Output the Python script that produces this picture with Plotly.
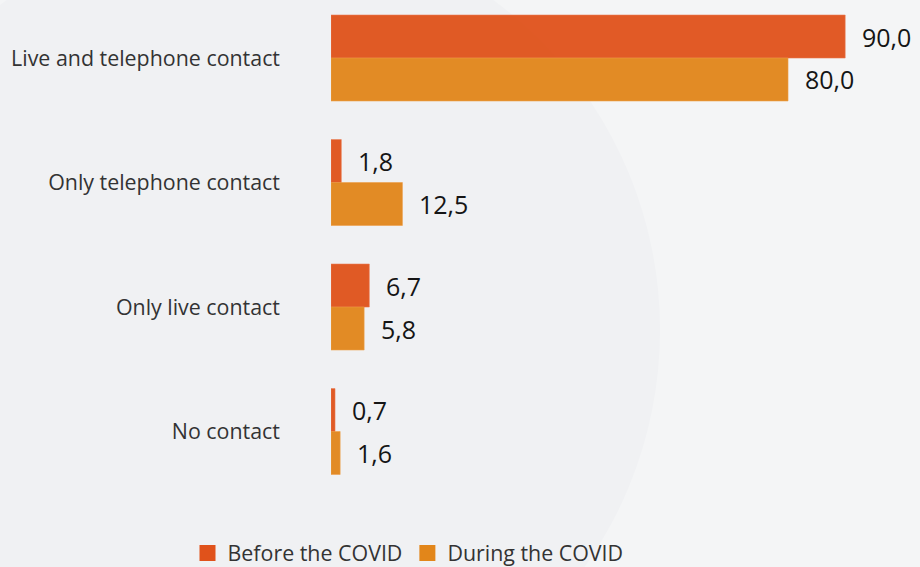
import plotly.graph_objects as go

# Share of respondents by type of contact (%)
categories = ["Live and telephone contact", "Only telephone contact",
              "Only live contact", "No contact"]
before_covid = [90.0, 1.8, 6.7, 0.7]
during_covid = [80.0, 12.5, 5.8, 1.6]
series_names = ["Before the COVID", "During the COVID"]

colors = ["#e0521b", "#e2861a"]
edge_colors = ["#ea7244", "#ec9a40"]
FONT = "Open Sans, Noto Sans, sans-serif"

fig = go.Figure()

for name, vals, col, edge in zip(series_names, [before_covid, during_covid], colors, edge_colors):
    fig.add_trace(go.Bar(
        y=categories, x=vals, orientation="h", name=name,
        marker=dict(color=col, line=dict(color=edge, width=0.6)),
        opacity=0.95, showlegend=False, hoverinfo="skip",
    ))

# legend entries with larger square swatches
for name, col in zip(series_names, colors):
    fig.add_trace(go.Scatter(
        x=[None], y=[None], mode="markers", name=name,
        marker=dict(symbol="square", size=16, color=col),
    ))

# value labels at the end of each bar
for i, vals in enumerate(zip(before_covid, during_covid)):
    for j, v in enumerate(vals):
        fig.add_annotation(
            x=v, y=i + (j - 0.5) * 0.345, xref="x", yref="y",
            text=f"{v:.1f}".replace(".", ","), showarrow=False,
            xanchor="left", yanchor="middle", xshift=15,
            font=dict(family=FONT, size=25, color="#151515"),
        )

# soft background circle
fig.add_shape(type="circle", xref="paper", yref="paper",
              x0=(-160 - 331) / 569, x1=(660 - 331) / 569,
              y0=(500 - 740) / 500, y1=(500 + 80) / 500,
              fillcolor="#f0f1f3", line=dict(width=0), layer="below")

fig.update_layout(
    width=920, height=567,
    margin=dict(l=331, r=20, t=0, b=67),
    paper_bgcolor="#f4f5f6",
    plot_bgcolor="rgba(0,0,0,0)",
    barmode="group", bargap=0.31, bargroupgap=0,
    separators=",.",
    font=dict(family=FONT, color="#333333"),
    xaxis=dict(range=[0, 99.6], visible=False, showgrid=False, zeroline=False),
    yaxis=dict(
        type="category", categoryorder="array", categoryarray=categories,
        range=[3.55, -0.466], showgrid=False, zeroline=False, showline=False,
        ticks="", ticklabelstandoff=50,
        tickfont=dict(family=FONT, size=21.4, color="#333333"),
    ),
    legend=dict(
        orientation="h", xref="container", yref="container",
        x=408 / 920, y=1 - 553 / 567, xanchor="center", yanchor="middle",
        font=dict(family=FONT, size=21.4, color="#333333"),
        bgcolor="rgba(0,0,0,0)", itemwidth=30,
    ),
)

fig.write_html("out.html")
